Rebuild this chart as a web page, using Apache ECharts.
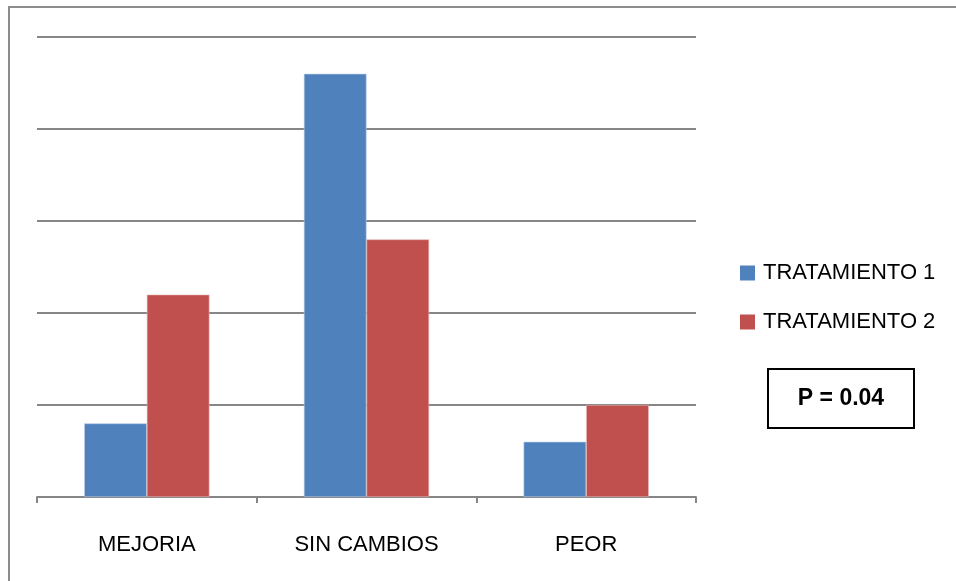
<!DOCTYPE html>
<html>
<head>
<meta charset="utf-8">
<script src="https://cdn.jsdelivr.net/npm/echarts@6/dist/echarts.min.js"></script>
<style>
  html, body { margin: 0; padding: 0; background: #fff; }
  #chart { width: 956px; height: 581px; }
</style>
</head>
<body>
<div id="chart"></div>
<script>
// Patient outcome counts per treatment group
const categories = ['MEJORIA', 'SIN CAMBIOS', 'PEOR'];
const seriesNames = ['TRATAMIENTO 1', 'TRATAMIENTO 2'];
const tratamiento1 = [8, 46, 6];
const tratamiento2 = [22, 28, 10];
const pValueText = 'P = 0.04';

const FONT = '"Liberation Sans", Arial, sans-serif';
const GRID_GREY = '#868686';

const chart = echarts.init(document.getElementById('chart'), null, { renderer: 'canvas' });

chart.setOption({
  animation: false,
  backgroundColor: '#ffffff',
  textStyle: { fontFamily: FONT },
  grid: { left: 37, right: 260, top: 37, bottom: 84, containLabel: false },
  legend: {
    orient: 'vertical',
    left: 735,
    top: 257,
    icon: 'rect',
    itemWidth: 15,
    itemHeight: 15,
    itemGap: 27,
    itemStyle: { borderWidth: 0 },
    textStyle: { fontSize: 22, color: '#000', fontFamily: FONT, padding: [0, 0, 0, 3] },
    data: seriesNames
  },
  xAxis: {
    type: 'category',
    data: categories,
    boundaryGap: true,
    axisLine: { lineStyle: { color: GRID_GREY, width: 2 } },
    axisTick: { show: true, length: 6, lineStyle: { color: GRID_GREY, width: 2 } },
    axisLabel: { fontSize: 22, color: '#000', margin: 37, fontFamily: FONT }
  },
  yAxis: {
    type: 'value',
    min: 0,
    max: 50,
    interval: 10,
    axisLine: { show: false },
    axisTick: { show: false },
    axisLabel: { show: false },
    splitLine: { lineStyle: { color: GRID_GREY, width: 2 } }
  },
  series: [
    {
      name: seriesNames[0],
      type: 'bar',
      data: tratamiento1,
      barGap: '0%',
      barCategoryGap: '43%',
      itemStyle: { color: '#4F81BD', borderColor: '#b9cde5', borderWidth: 0.6 }
    },
    {
      name: seriesNames[1],
      type: 'bar',
      data: tratamiento2,
      barGap: '0%',
      barCategoryGap: '43%',
      itemStyle: { color: '#C0504D', borderColor: '#e6b9b8', borderWidth: 0.6 }
    }
  ],
  graphic: [
    {
      // outer chart frame
      type: 'rect',
      shape: { x: 9, y: 7, width: 1000, height: 620 },
      style: { fill: 'none', stroke: '#8c8c8c', lineWidth: 2 },
      silent: true,
      z: 100
    },
    {
      type: 'group',
      left: 767,
      top: 368,
      children: [
        {
          type: 'rect',
          shape: { x: 0, y: 0, width: 146, height: 59 },
          style: { fill: '#fff', stroke: '#000', lineWidth: 2 }
        },
        {
          type: 'text',
          x: 73,
          y: 30,
          style: {
            text: pValueText,
            fontSize: 23,
            fontWeight: 'bold',
            fontFamily: FONT,
            fill: '#000',
            align: 'center',
            verticalAlign: 'middle'
          }
        }
      ]
    }
  ]
});
</script>
</body>
</html>
